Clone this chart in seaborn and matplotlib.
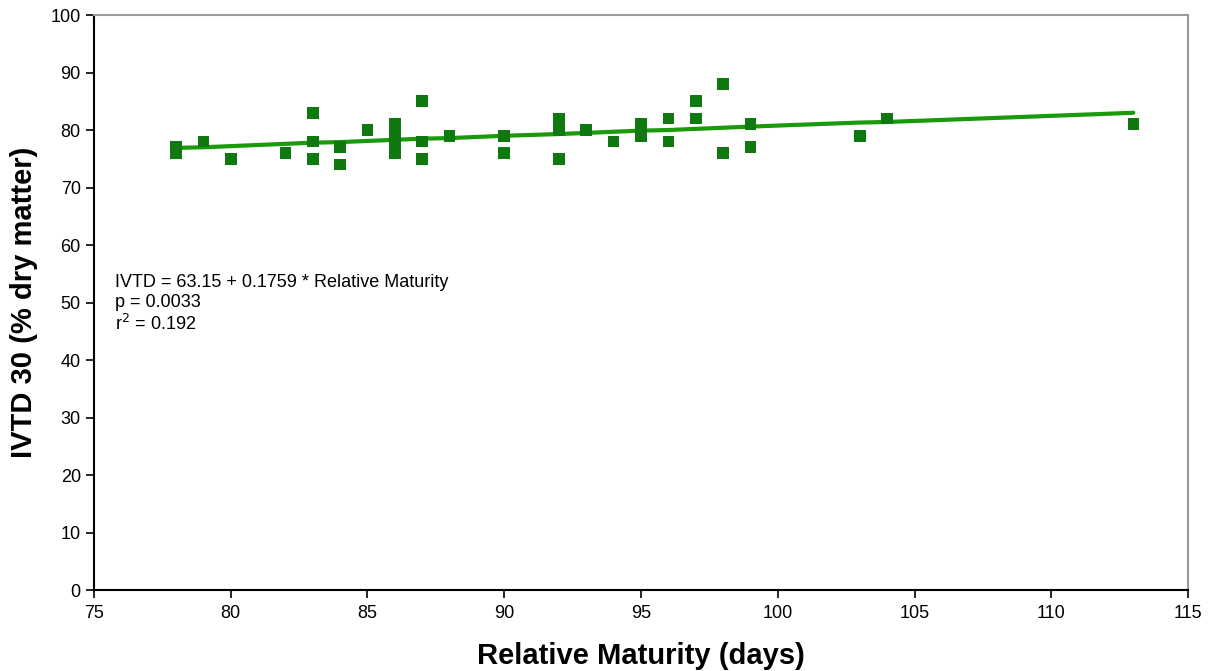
import pandas as pd
import seaborn as sns
import matplotlib.pyplot as plt

# Relative maturity (days) and IVTD 30 (% dry matter)
maturity = [78, 78, 79, 80, 82, 83, 83, 83, 84, 84, 85,
            86, 86, 86, 86, 86, 87, 87, 87, 88, 90, 90,
            92, 92, 92, 92, 93, 94, 95, 95, 95, 96, 96,
            97, 97, 98, 98, 99, 99, 103, 104, 113]
ivtd = [77, 76, 78, 75, 76, 83, 78, 75, 77, 74, 80,
        81, 80, 78, 77, 76, 85, 78, 75, 79, 79, 76,
        82, 81, 80, 75, 80, 78, 81, 80, 79, 82, 78,
        85, 82, 88, 76, 81, 77, 79, 82, 81]

# Fitted line as drawn
fit_x = [78, 79, 80, 82, 83, 84, 85, 86, 87, 88, 90, 92, 93, 94, 95, 96,
         97, 98, 99, 103, 104, 113]
fit_y = [76.9, 77.0, 77.2, 77.6, 77.8, 77.9, 78.1, 78.3, 78.5, 78.6, 79.0,
         79.3, 79.5, 79.7, 79.9, 80.0, 80.2, 80.4, 80.6, 81.3, 81.4, 83.0]

points = pd.DataFrame({'maturity': maturity, 'ivtd': ivtd})
fit = pd.DataFrame({'maturity': fit_x, 'ivtd': fit_y})

sns.set_style('white')
plt.rcParams['font.family'] = ['Liberation Sans', 'DejaVu Sans']
plt.rcParams['text.color'] = 'black'
plt.rcParams['axes.labelcolor'] = 'black'

fig = plt.figure(figsize=(12.14, 6.71), dpi=100)
ax = fig.add_axes([0.0774, 0.1207, 0.9012, 0.8569])

sns.lineplot(fit, x='maturity', y='ivtd', color='#1a9a0a', linewidth=3,
             ax=ax, zorder=2)
sns.scatterplot(points, x='maturity', y='ivtd', marker='s', s=70,
                color='#0f780f', edgecolor='none', ax=ax, zorder=3)

ax.set_xlim(75, 115)
ax.set_ylim(0, 100)
ax.set_xticks(range(75, 116, 5))
ax.set_yticks(range(0, 101, 10))
ax.tick_params(axis='both', direction='out', length=6, width=1.2,
               labelsize=13, colors='black', left=True, bottom=True)
ax.tick_params(axis='x', pad=5)

for side in ['left', 'bottom']:
    ax.spines[side].set_color('black')
    ax.spines[side].set_linewidth(1.5)
for side in ['top', 'right']:
    ax.spines[side].set_color('#9a9a9a')
    ax.spines[side].set_linewidth(1.5)

ax.set_xlabel('Relative Maturity (days)', fontsize=21, fontweight='bold',
              labelpad=14)
ax.set_ylabel('IVTD 30 (% dry matter)', fontsize=21, fontweight='bold')
ax.yaxis.set_label_coords(-0.051, 0.5)

ax.text(0.019, 0.534, 'IVTD = 63.15 + 0.1759 * Relative Maturity',
        transform=ax.transAxes, fontsize=13, va='center')
ax.text(0.019, 0.500, 'p = 0.0033', transform=ax.transAxes,
        fontsize=13, va='center')
ax.text(0.019, 0.463, 'r$^2$ = 0.192', transform=ax.transAxes,
        fontsize=13, va='center')

fig.savefig('out.png', dpi=100)
